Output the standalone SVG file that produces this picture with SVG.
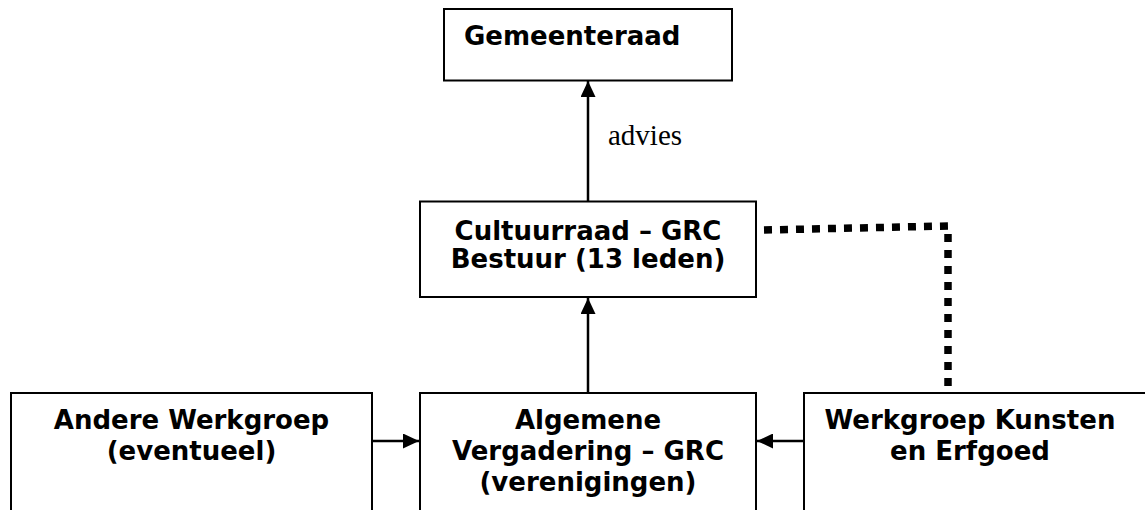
<svg xmlns="http://www.w3.org/2000/svg" width="1145" height="510" viewBox="0 0 1145 510">
  <defs>
    <style>
      .box { fill: #fff; stroke: #000; stroke-width: 2; }
      .lbl { font-family: "DejaVu Sans", Verdana, sans-serif; font-weight: bold; font-size: 26px; fill: #000; }
      .mid { text-anchor: middle; }
      .conn { stroke: #000; stroke-width: 2.5; fill: none; }
      .dot { stroke: #000; stroke-width: 7.5; fill: none; stroke-dasharray: 8 8; }
      .note { font-family: "Liberation Serif", "Times New Roman", serif; font-size: 29px; fill: #000; }
    </style>
    <marker id="arr" viewBox="0 0 16 15" refX="16" refY="7.5" markerWidth="16" markerHeight="15" markerUnits="userSpaceOnUse" orient="auto">
      <path d="M0,0 L16,7.5 L0,15 Z" fill="#000"/>
    </marker>
  </defs>

  <g id="gemeenteraad">
    <rect class="box" x="444" y="9" width="288" height="71.5"/>
    <text class="lbl" x="464" y="45">Gemeenteraad</text>
  </g>

  <g id="cultuurraad">
    <rect class="box" x="420" y="201.5" width="336" height="95.5"/>
    <text class="lbl mid" x="588" y="240">Cultuurraad – GRC</text>
    <text class="lbl mid" x="588" y="268">Bestuur (13 leden)</text>
  </g>

  <g id="andere-werkgroep">
    <rect class="box" x="11" y="393" width="361" height="150"/>
    <text class="lbl mid" x="191.5" y="429">Andere Werkgroep</text>
    <text class="lbl mid" x="191.5" y="460">(eventueel)</text>
  </g>

  <g id="algemene-vergadering">
    <rect class="box" x="420" y="393" width="336" height="150"/>
    <text class="lbl mid" x="588" y="429">Algemene</text>
    <text class="lbl mid" x="588" y="460">Vergadering – GRC</text>
    <text class="lbl mid" x="588" y="491">(verenigingen)</text>
  </g>

  <g id="werkgroep-kunsten">
    <rect class="box" x="804" y="393" width="400" height="150"/>
    <text class="lbl mid" x="970" y="429">Werkgroep Kunsten</text>
    <text class="lbl mid" x="970" y="460">en Erfgoed</text>
  </g>

  <g id="connectors">
    <line class="conn" x1="588" y1="201.5" x2="588" y2="81" marker-end="url(#arr)"/>
    <text class="note" x="608" y="145">advies</text>
    <line class="conn" x1="588" y1="393" x2="588" y2="298" marker-end="url(#arr)"/>
    <line class="conn" x1="372" y1="441" x2="419" y2="441" marker-end="url(#arr)"/>
    <line class="conn" x1="804" y1="441" x2="757" y2="441" marker-end="url(#arr)"/>
    <path class="dot" d="M764,230 L948,226 L948,393"/>
  </g>
</svg>
